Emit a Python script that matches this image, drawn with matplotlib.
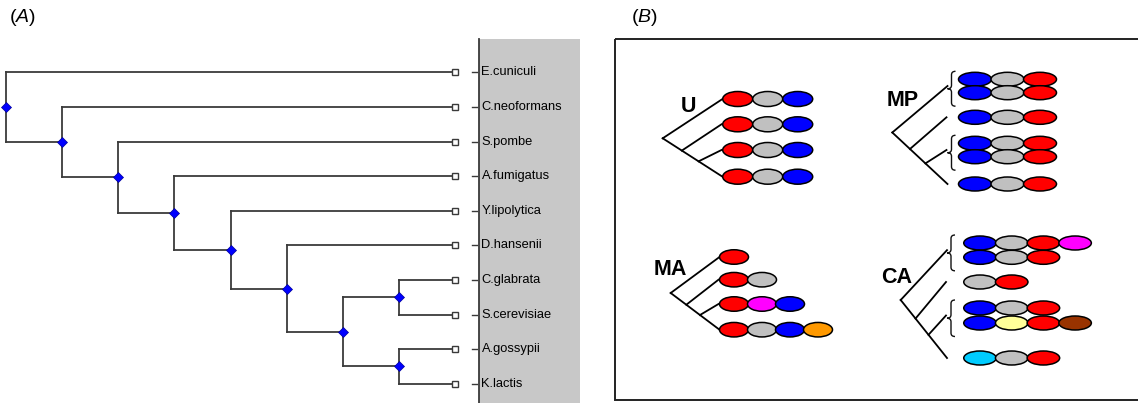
# Figura: (A) arvore das especies e (B) esquemas de arquitetura de dominios

import matplotlib
matplotlib.use("Agg")
import matplotlib.pyplot as plt
import matplotlib.transforms as mtransforms
from matplotlib.patches import Ellipse, Rectangle, PathPatch
from matplotlib.path import Path
import numpy as np

plt.rcParams['font.family'] = ['Liberation Sans', 'DejaVu Sans']
plt.rcParams['mathtext.fontset'] = 'custom'
plt.rcParams['mathtext.rm'] = 'Liberation Sans'
plt.rcParams['mathtext.it'] = 'Liberation Sans:italic'

# Dados ------------
especies = ["E.cuniculi", "C.neoformans", "S.pombe", "A.fumigatus", "Y.lipolytica",
            "D.hansenii", "C.glabrata", "S.cerevisiae", "A.gossypii", "K.lactis"]
# topologia (indices das especies)
arvore = (0, (1, (2, (3, (4, (5, ((6, 7), (8, 9))))))))

# cores dos dominios por linha (R=vermelho, G=cinza, B=azul, M=magenta, O=laranja,
# C=ciano, Y=amarelo claro, N=marrom)
linhas_U = ["RGB", "RGB", "RGB", "RGB"]
linhas_MP = ["BGR", "BGR", "BGR", "BGR", "BGR", "BGR"]
linhas_MA = ["R", "RG", "RMB", "RGBO"]
linhas_CA = ["BGRM", "BGR", "GR", "BGR", "BYRN", "CGR"]

clados_U = [[0], [1], [2], [3]]
clados_MP = [[0, 1], [2], [3, 4], [5]]
clados_MA = [[0], [1], [2], [3]]
clados_CA = [[0, 1], [2], [3, 4], [5]]
# ----------------------

cores = {'R': '#FF0000', 'G': '#C0C0C0', 'B': '#0000FF', 'M': '#FF00FF',
         'O': '#FF9900', 'C': '#00CCFF', 'Y': '#FFFF99', 'N': '#993300'}
cor_linha = '#3A3A3A'

W, H = 1138, 403
fig = plt.figure(figsize=(W / 100, H / 100), dpi=100)

# eixo base em pixels
ax = fig.add_axes([0, 0, 1, 1])
ax.set_xlim(0, W)
ax.set_ylim(H, 0)
ax.axis('off')

# -------------------- Painel A --------------------
x_raiz, x_folha = 5.7, 455.3
y_top, y_bot = 72.3, 383.7
ax_tree = fig.add_axes([x_raiz / W, (H - y_bot) / H, (x_folha - x_raiz) / W, (y_bot - y_top) / H])
ax_tree.set_xlim(0, 8)
ax_tree.set_ylim(len(especies) - 1, 0)
ax_tree.axis('off')

nos = []


def desenha(no, prof):
    if isinstance(no, int):
        return no
    ys = [desenha(filho, prof + 1) for filho in no]
    for filho, yf in zip(no, ys):
        xf = 8 if isinstance(filho, int) else prof + 1
        ax_tree.plot([prof, xf], [yf, yf], color=cor_linha, lw=1.3, solid_capstyle='projecting', clip_on=False)
    ax_tree.plot([prof, prof], [min(ys), max(ys)], color=cor_linha, lw=1.3, clip_on=False)
    y = np.mean(ys)
    nos.append((prof, y))
    return y


desenha(arvore, 0)
for prof, y in nos:
    ax_tree.plot(prof, y, marker='D', ms=4.6, mfc='#0000FF', mec='#000099', mew=0.5, clip_on=False, zorder=5)

idx = np.arange(len(especies))
ax_tree.plot(np.full(len(especies), 8), idx, ls='none', marker='s', ms=3.9, mfc='white',
             mec=cor_linha, mew=1.0, clip_on=False, zorder=5)

# faixa cinza com nomes
ax.add_patch(Rectangle((479, 39.3), 101, H, fc='#C8C8C8', ec='none', zorder=0))
ax.plot([479, 479], [39.3, H], color=cor_linha, lw=1.3)

trans = mtransforms.blended_transform_factory(ax.transData, ax_tree.transData)
for i, nome in enumerate(especies):
    ax.plot([471.7, 477], [i, i], color=cor_linha, lw=1.0, transform=trans, clip_on=False)
    ax.text(481.5, i, nome, transform=trans, fontsize=9.3, va='center', ha='left')

ax.text(9.5, 22, r'($\mathit{A}$)', fontsize=14, va='baseline', ha='left')

# -------------------- Painel B --------------------
ax.add_patch(Rectangle((615, 38.6), 600, 361.6, fill=False, ec='#222222', lw=1.4))
ax.text(631.5, 22, r'($\mathit{B}$)', fontsize=14, va='baseline', ha='left')

layouts = [
    ("U", linhas_U, clados_U, dict(rot=(689, 111.7), ys=[99, 124.3, 150, 176.7], x0=737.7,
                                   passo=30, w=30, h=15, fim=722.5, apice=(662.7, 138.3))),
    ("MP", linhas_MP, clados_MP, dict(rot=(903, 105.7), ys=[79.3, 92.7, 117.3, 143.3, 156.7, 184],
                                      x0=975, passo=32.5, w=33, h=14, fim=947.5, apice=(892.3, 132.5))),
    ("MA", linhas_MA, clados_MA, dict(rot=(670, 274.7), ys=[257, 279.7, 304, 329.7], x0=734,
                                      passo=28, w=29, h=14.5, fim=719.5, apice=(670.7, 293))),
    ("CA", linhas_CA, clados_CA, dict(rot=(897, 283), ys=[243, 257.3, 282, 308, 323, 358],
                                      x0=980, passo=31.7, w=32.5, h=14, fim=947, apice=(900.7, 300))),
]


def chave(x_ponta, x_fim, ya, yb):
    ym = (ya + yb) / 2
    xm = (x_ponta + x_fim) / 2
    r = 3.5
    verts = [(x_fim, ya), (xm, ya), (xm, ya + r), (xm, ym - r), (xm, ym), (x_ponta, ym),
             (xm, ym), (xm, ym + r), (xm, yb - r), (xm, yb), (x_fim, yb)]
    codes = [Path.MOVETO, Path.CURVE3, Path.CURVE3, Path.LINETO, Path.CURVE3, Path.CURVE3,
             Path.CURVE3, Path.CURVE3, Path.LINETO, Path.CURVE3, Path.CURVE3]
    ax.add_patch(PathPatch(Path(verts, codes), fill=False, ec='#111111', lw=1.0))


for nome, linhas, clados, L in layouts:
    ax.text(L['rot'][0], L['rot'][1], nome, fontsize=15.5, fontweight='bold', ha='center', va='baseline')

    # dominios
    for linha, y in zip(linhas, L['ys']):
        for j, c in enumerate(linha):
            ax.add_patch(Ellipse((L['x0'] + j * L['passo'], y), L['w'], L['h'],
                                 fc=cores[c], ec='black', lw=1.1, zorder=3))

    # arvore do grupo
    alvos = [np.mean([L['ys'][k] for k in cl]) for cl in clados]
    xa, ya = L['apice']
    fim = L['fim']
    ax.plot([xa, fim], [ya, alvos[0]], color='black', lw=1.3)
    ax.plot([xa, fim], [ya, alvos[-1]], color='black', lw=1.3)
    for t, alvo in zip([0.32, 0.6], alvos[1:-1]):
        xb = xa + t * (fim - xa)
        yb = ya + t * (alvos[-1] - ya)
        ax.plot([xb, fim - 1], [yb, alvo], color='black', lw=1.3)

    # chaves para clados de duas linhas
    for cl in clados:
        if len(cl) > 1:
            ya_c = L['ys'][cl[0]] - 8
            yb_c = L['ys'][cl[-1]] + 13.5
            chave(fim, fim + 8, ya_c, yb_c)

fig.savefig("out.png", dpi=100)
